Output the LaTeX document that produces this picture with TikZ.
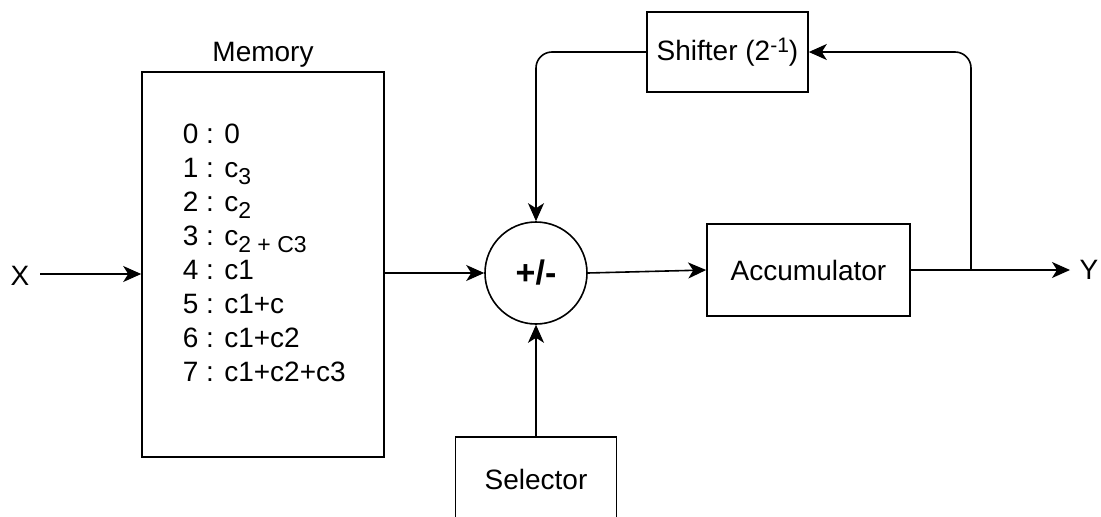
\documentclass[tikz,border=0pt]{standalone}
\usepackage{fontspec}
\setmainfont{Liberation Sans}
\usetikzlibrary{arrows.meta}

\newcommand{\lowtxt}[1]{\raisebox{-7pt}{\fontsize{23}{23}\selectfont #1}}
\newcommand{\hightxt}[1]{\raisebox{8pt}{\fontsize{21}{21}\selectfont #1}}

\begin{document}
\begin{tikzpicture}[x=1pt,y=-1pt,line width=1.6pt,
    >={Stealth[length=18pt,width=16pt,inset=5pt]},
    box/.style={draw,inner sep=0pt,font=\fontsize{28}{32}\selectfont},
    txt/.style={inner sep=0pt,font=\fontsize{28}{32}\selectfont}]
  \useasboundingbox (0,0) rectangle (1101,517);
  % blocks
  \node[box,minimum width=242,minimum height=385] (mem) at (263,264.5) {};
  \node[txt] (memlbl) at (263,55) {Memory};
  \foreach \t [count=\i from 0] in {0,c\lowtxt{3},c\lowtxt{2},c\lowtxt{2 + C3},c1,c1+c,c1+c2,c1+c2+c3}
    \node[txt,anchor=base west] (m\i) at (182,143+34.1*\i) {\i\ : \t};
  \node[box,circle,minimum size=102,font=\fontsize{34}{36}\selectfont\bfseries] (sum) at (536,273) {+/-};
  \node[box,minimum width=203,minimum height=92] (acc) at (808.5,270) {Accumulator};
  \node[box,minimum width=161,minimum height=80] (shift) at (727.5,52) {Shifter (2\hightxt{-1})};
  \node[box,minimum width=161,minimum height=84] (sel) at (536,479) {Selector};
  \node[txt] (X) at (20,276) {X};
  \node[txt] (Y) at (1089,270) {Y};
  \coordinate (jn) at (971,270);
  % wires
  \draw[->] (X.east -| 40,0) ++(0,-2) coordinate (xin) -- (xin -| mem.west);
  \draw[->] (sum.west -| mem.east) -- (sum.west);
  \draw[->] (sum.east) -- (acc.west);
  \draw[->] (acc.east) -- (Y.west -| 1070,0);
  \draw[->,rounded corners=16pt] (jn) |- (shift.east);
  \draw[->,rounded corners=16pt] (shift.west) -| (sum.north);
  \draw[->] (sel.north) -- (sum.south);
\end{tikzpicture}
\end{document}
